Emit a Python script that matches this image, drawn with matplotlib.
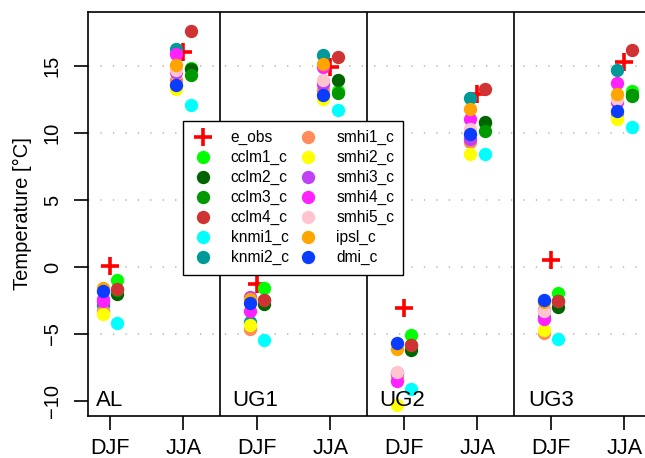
import matplotlib
matplotlib.use("Agg")
import matplotlib.pyplot as plt
import numpy as np

plt.rcParams['font.family'] = ['Liberation Sans', 'DejaVu Sans']

# order: AL DJF, AL JJA, UG1 DJF, UG1 JJA, UG2 DJF, UG2 JJA, UG3 DJF, UG3 JJA
regions = ['AL', 'UG1', 'UG2', 'UG3']
seasons = ['DJF', 'JJA']

e_obs = [0.05, 16.05, -1.24, 14.95, -3.06, 12.9, 0.55, 15.3]
cclm1_c = [-0.94, 14.85, -1.57, 13.1, -5.1, 10.75, -1.94, 13.1]
cclm2_c = [-1.99, 14.8, -2.78, 13.93, -6.22, 10.82, -2.98, 12.8]
cclm3_c = [-1.75, 14.3, -2.45, 12.99, -5.85, 10.13, -2.55, 12.75]
cclm4_c = [-1.66, 17.59, -2.43, 15.67, -5.84, 13.26, -2.56, 16.17]
knmi1_c = [-4.15, 12.07, -5.47, 11.69, -9.08, 8.46, -5.4, 10.45]
knmi2_c = [-2.86, 16.3, -4.1, 15.8, -7.95, 12.64, -3.73, 14.68]
smhi1_c = [-3.3, 13.93, -4.6, 13.2, -8.1, 9.33, -4.9, 11.4]
smhi2_c = [-3.48, 13.31, -4.35, 12.57, -10.3, 8.46, -4.72, 11.07]
smhi3_c = [-2.4, 14.55, -2.24, 13.63, -7.9, 9.58, -3.2, 12.31]
smhi4_c = [-2.54, 15.92, -3.28, 14.95, -8.53, 11.07, -3.9, 13.76]
smhi5_c = [-1.7, 14.68, -2.5, 13.93, -7.84, 10.32, -3.28, 12.57]
ipsl_c = [-1.56, 15.05, -2.4, 15.18, -6.09, 11.82, -2.6, 12.94]
dmi_c = [-1.81, 13.56, -2.66, 12.81, -5.67, 9.95, -2.49, 11.62]

models = [
    ('cclm1_c', cclm1_c, '#00FF00', 0.1),
    ('cclm2_c', cclm2_c, '#006400', 0.1),
    ('cclm3_c', cclm3_c, '#009A00', 0.1),
    ('cclm4_c', cclm4_c, '#D03333', 0.1),
    ('knmi1_c', knmi1_c, '#00FFFF', 0.1),
    ('knmi2_c', knmi2_c, '#009999', -0.1),
    ('smhi1_c', smhi1_c, '#FF8C5A', -0.1),
    ('smhi2_c', smhi2_c, '#FFFF00', -0.1),
    ('smhi3_c', smhi3_c, '#C040F5', -0.1),
    ('smhi4_c', smhi4_c, '#FF22FF', -0.1),
    ('smhi5_c', smhi5_c, '#FFC4CE', -0.1),
    ('ipsl_c', ipsl_c, '#FFA500', -0.1),
    ('dmi_c', dmi_c, '#0A3CFF', -0.1),
]

x = np.arange(1, 9)

fig = plt.figure(figsize=(6.45, 4.58), dpi=100)
ax = fig.add_axes([88.3/645, 1-415.7/458, 557.7/645, 404/458])

for yv in [-5, 0, 5, 10, 15]:
    ax.axhline(yv, color='#C8C8C8', lw=1.5, dashes=(0.67, 5.3), zorder=0)

ax.plot(x, e_obs, '+', color='#FF0000', ms=13, mew=2.6, label='e_obs', zorder=2)
for name, vals, col, off in models:
    ax.plot(x + off, vals, 'o', color=col, ms=9.6, mec='none', label=name, zorder=2)

for xv in [2.5, 4.5, 6.5]:
    ax.axvline(xv, color='black', lw=1.2, zorder=3)

label_x = [0.81, 2.67, 4.67, 6.69]
for lx, r in zip(label_x, regions):
    ax.text(lx, -10.35, r, fontsize=16, ha='left', va='baseline', zorder=5)

ax.set_xlim(0.705, 8.293)
ax.set_ylim(-11.1, 19.05)
ax.set_xticks(x)
ax.set_xticklabels(seasons * 4)
ax.set_yticks([-10, -5, 0, 5, 10, 15])
ax.set_yticklabels(['\u221210', '\u22125', '0', '5', '10', '15'], rotation=90, va='center')
ax.tick_params(length=10, width=1.2)
ax.tick_params(axis='x', labelsize=15.5, pad=6.3)
ax.tick_params(axis='y', labelsize=14.5, pad=9)
for s in ax.spines.values():
    s.set_linewidth(1.2)

fig.text(22/645, 1-213.7/458, 'Temperature [°C]', rotation=90, fontsize=14.5,
         ha='center', va='center')

leg = ax.legend(ncol=2, loc='upper left', bbox_to_anchor=(0.1703, 0.7295),
                borderaxespad=0, fontsize=11.2, frameon=True, fancybox=False,
                edgecolor='black', framealpha=1, handlelength=1.3,
                handletextpad=1.15, columnspacing=0.6, borderpad=0.6,
                labelspacing=0.31)
leg.get_frame().set_linewidth(1.0)
leg.set_zorder(6)

fig.savefig('out.png', dpi=100)
